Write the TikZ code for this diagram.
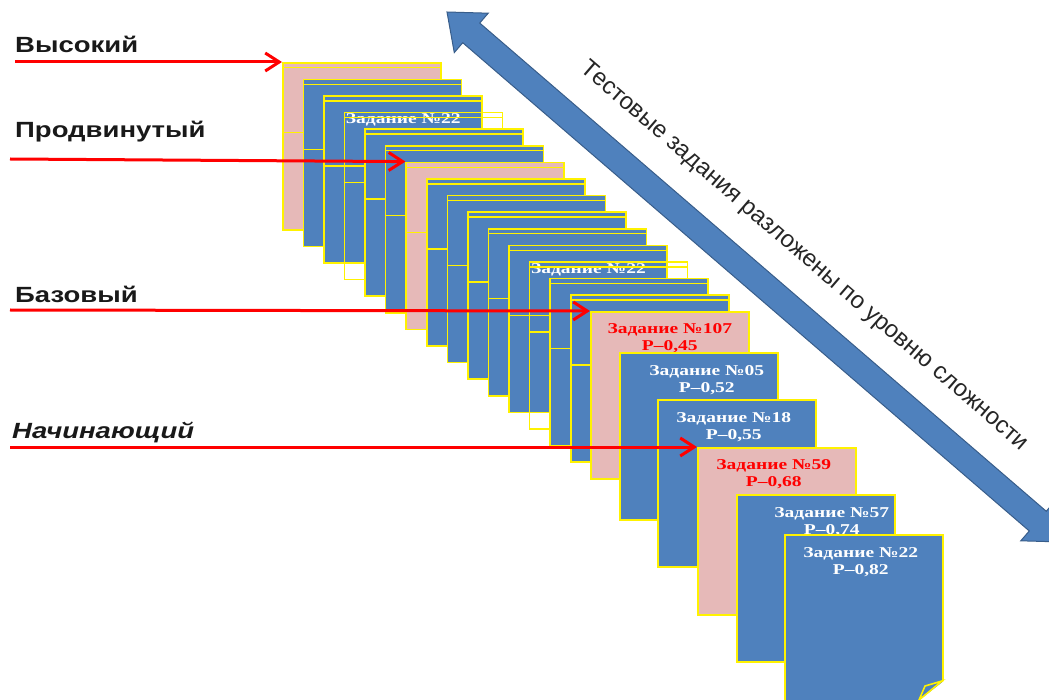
\documentclass[tikz,border=0pt]{standalone}
\usepackage{fontspec}
\setmainfont{Liberation Serif}
\setsansfont{Liberation Sans}
\newfontfamily\levelfont[FakeStretch=1.25]{Liberation Sans}
\newfontfamily\cardfont[FakeStretch=1.3]{Liberation Serif}
\usepackage{xcolor}
\definecolor{cardblue}{HTML}{4F81BD}
\definecolor{cardpink}{HTML}{E6B9B8}
\definecolor{arrowline}{HTML}{385D8A}
\usetikzlibrary{arrows.meta}
\usetikzlibrary{calc}
\usetikzlibrary{positioning}

\begin{document}
\begin{tikzpicture}
  [
    x = 1pt, y = -1pt,
    card/.style = {draw = yellow, line width = 1.6pt, fill = cardblue,
                  minimum width = 158pt, minimum height = 167pt,
                  anchor = north west, inner sep = 0pt},
    pinkcard/.style = {card, fill = cardpink},
    ghostcard/.style = {card, fill = none,
                  label = {[ghosttext]north west:Задание №22}},
    textbox/.style = {draw = yellow, line width = 1.4pt,
                  minimum width = 158pt, minimum height = 65pt,
                  anchor = north west, inner sep = 0pt},
    cardtext/.style = {font = \cardfont\bfseries\fontsize{15}{17}\selectfont,
                  text = white, align = center, inner sep = 0pt},
    hardtext/.style = {cardtext, text = red},
    ghosttext/.style = {cardtext, anchor = north west, inner sep = 2pt},
    level/.style = {font = \levelfont\bfseries\fontsize{22}{26}\selectfont,
                  anchor = base west, inner sep = 0pt, text = black!90},
    levelarrow/.style = {red, line width = 3pt,
                  -{Straight Barb[length = 14pt, width = 18pt]}},
    bigarrow/.style = {fill = cardblue, draw = arrowline, line width = 1pt},
    sidetext/.style = {font = \sffamily\fontsize{24}{28}\selectfont,
                  text = black!85},
  ]
  \useasboundingbox (0,0) rectangle (1049,700);

  % big double arrow
  \coordinate (tip_up) at (447,12);
  \coordinate (tip_down) at (1062,542);
  \coordinate (head_up) at ($(tip_up)!32pt!(tip_down)$);
  \coordinate (head_down) at ($(tip_down)!32pt!(tip_up)$);
  \filldraw[bigarrow] (tip_up)
    -- ($(head_up)!26pt!90:(tip_down)$) -- ($(head_up)!13pt!90:(tip_down)$)
    -- ($(head_down)!13pt!-90:(tip_up)$) -- ($(head_down)!26pt!-90:(tip_up)$)
    -- (tip_down)
    -- ($(head_down)!26pt!90:(tip_up)$) -- ($(head_down)!13pt!90:(tip_up)$)
    -- ($(head_up)!13pt!-90:(tip_down)$) -- ($(head_up)!26pt!-90:(tip_down)$)
    -- cycle;
  \coordinate (mid) at ($(tip_up)!0.53!(tip_down)$);
  \node[sidetext, rotate = -40.75] (caption) at ($(mid)!48pt!90:(tip_down)$)
    {Тестовые задания разложены по уровню сложности};

  % stacked cards in the back
  \foreach \k/\kind in {0/pinkcard, 1/card, 2/card, 3/ghostcard, 4/card,
      5/card, 6/pinkcard, 7/card, 8/card, 9/card, 10/card, 11/card,
      12/ghostcard, 13/card, 14/card} {
    \node[\kind] (back\k) at (282 + 20.57*\k, 62 + 16.6*\k) {};
    \node[textbox] (box\k) at (282 + 20.57*\k, 67 + 16.6*\k) {};
  }

  % cards in front
  \node[pinkcard] (q107) at (590,311) {};
  \node[hardtext, below = 12pt of q107.north] (q107_text) {Задание №107\\Р–0,45};
  \node[card] (q05) at (619,352) {};
  \node[cardtext, below = 13pt of q05.north, xshift = 8pt] (q05_text) {Задание №05\\Р–0,52};
  \node[card] (q18) at (657,399) {};
  \node[cardtext, below = 13pt of q18.north, xshift = -3pt] (q18_text) {Задание №18\\Р–0,55};
  \node[pinkcard] (q59) at (697,447) {};
  \node[hardtext, below = 12pt of q59.north, xshift = -3pt] (q59_text) {Задание №59\\Р–0,68};
  \node[card] (q57) at (736,494) {};
  \node[cardtext, below = 13pt of q57.north, xshift = 16pt] (q57_text) {Задание №57\\Р–0,74};
  \node[card] (q22) at (784,534) {};
  \node[cardtext, below = 13pt of q22.north, xshift = -3pt] (q22_text) {Задание №22\\Р–0,82};

  % curled corner
  \fill[white] (944,681) -- (944,702) -- (917,702) -- cycle;
  \filldraw[fill = cardblue, draw = yellow, line width = 1.6pt]
    (942,681) -- (919,700) -- (925,686) -- cycle;

  % levels
  \coordinate (s_high) at (15,62);
  \coordinate (s_adv) at (10,159);
  \coordinate (s_base) at (10,310);
  \coordinate (s_start) at (10,447);
  \node[level] (high) at (15,53) {Высокий};
  \node[level] (adv) at (15,138) {Продвинутый};
  \node[level] (base) at (15,303) {Базовый};
  \node[level, font = \levelfont\bfseries\itshape\fontsize{22}{26}\selectfont]
    (start) at (12,438) {Начинающий};
  \draw[levelarrow] (s_high) -- (back0.north west);
  \draw[levelarrow] (s_adv) -- (back6.north west);
  \draw[levelarrow] (s_base) -- (q107.north west);
  \draw[levelarrow] (s_start) -- (q59.north west);
\end{tikzpicture}
\end{document}
